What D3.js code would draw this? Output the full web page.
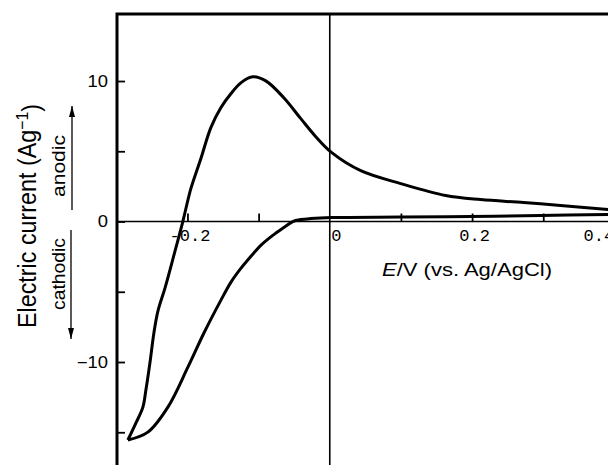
<!DOCTYPE html>
<html>
<head>
<meta charset="utf-8">
<script src="https://cdn.jsdelivr.net/npm/d3@7"></script>
<style>
  body { margin: 0; background: #fff; }
</style>
</head>
<body>
<div id="chart"></div>
<script>

// Anodic sweep: from the negative vertex up through the peak to the right edge
const forwardE = [-0.2837, -0.2725, -0.2626, -0.2584, -0.2528, -0.2472, -0.2416, -0.2317, -0.2191, -0.2065,
                  -0.1952, -0.1812, -0.1671, -0.1531, -0.1390, -0.1250, -0.1081, -0.0899, -0.0646, -0.0407,
                  -0.0197, 0.0028, 0.0435, 0.0997, 0.1629, 0.2121, 0.2725, 0.3244, 0.3919];
const forwardI = [-15.55, -14.35, -13.21, -12.00, -10.09, -7.95, -6.39, -4.76, -2.41, 0.0,
                  2.34, 4.47, 6.68, 8.10, 9.09, 9.87, 10.30, 10.01, 8.81, 7.32,
                  6.04, 4.90, 3.62, 2.70, 1.85, 1.56, 1.35, 1.14, 0.85];

// Cathodic sweep: from the right edge back down to the negative vertex
const returnE = [0.3919, 0.2963, 0.1980, 0.0997, 0.0028, -0.0267, -0.0407, -0.0520, -0.0646, -0.0801,
                 -0.0969, -0.1110, -0.1250, -0.1390, -0.1531, -0.1770, -0.1994, -0.2275, -0.2556, -0.2837];
const returnI = [0.50, 0.43, 0.36, 0.32, 0.28, 0.21, 0.14, 0.0, -0.43, -0.99,
                 -1.70, -2.49, -3.34, -4.33, -5.61, -7.95, -10.37, -13.21, -14.99, -15.55];

// Ticks
const yMajor = [-10, 0, 10];
const yMinor = [-15, -5, 5];
const xTickValues = [-0.2, -0.1, 0.1, 0.2, 0.3, 0.4];
const xLabelValues = [-0.2, 0, 0.2, 0.4];

// Labels
const yTitle = "Electric current (Ag";
const ySup = "\u22121";
const anodicLabel = "anodic";
const cathodicLabel = "cathodic";

function widen(sel, k) {
    // the scanned figure is a bit wider than tall, stretch glyphs to match
    sel.each(function () {
        const len = this.getComputedTextLength();
        d3.select(this).attr("textLength", len * k).attr("lengthAdjust", "spacingAndGlyphs");
    });
}

function draw() {
    const width = 608, height = 465;
    const left = 117, top = 14;

    const svg = d3.select("#chart")
                  .append("svg")
                  .attr("width", width)
                  .attr("height", height)
                  .style("display", "block");

    const x = d3.scaleLinear()
                .domain([-0.299, 0.391])
                .range([left, width]);
    const y = d3.scaleLinear()
                .domain([-17.33, 14.77])
                .range([height, top]);

    // arrowhead
    svg.append("defs").append("marker")
       .attr("id", "arrow")
       .attr("markerUnits", "userSpaceOnUse")
       .attr("markerWidth", 11).attr("markerHeight", 6)
       .attr("refX", 11).attr("refY", 3)
       .attr("orient", "auto")
       .append("path")
       .attr("d", "M0,0 L11,3 L0,6 Z")
       .attr("fill", "#000");

    // zero lines
    svg.append("line")
       .attr("x1", left).attr("x2", width)
       .attr("y1", y(0)).attr("y2", y(0))
       .attr("stroke", "#000").attr("stroke-width", 1.6);
    svg.append("line")
       .attr("x1", x(0)).attr("x2", x(0))
       .attr("y1", top).attr("y2", height)
       .attr("stroke", "#000").attr("stroke-width", 1.6);

    // Y axis ticks (pointing inward)
    const yFmt = d => d < 0 ? "\u2212" + Math.abs(d) : String(d);
    const yAxis = svg.append("g")
       .attr("transform", `translate(${left},0)`)
       .call(d3.axisLeft(y).tickValues(yMajor).tickSizeInner(-8).tickSizeOuter(0).tickPadding(9).tickFormat(yFmt));
    svg.append("g")
       .attr("transform", `translate(${left},0)`)
       .call(d3.axisLeft(y).tickValues(yMinor).tickSizeInner(-8).tickSizeOuter(0).tickFormat(""));
    svg.selectAll(".domain").remove();
    yAxis.selectAll("text")
         .attr("font-family", "'Liberation Sans', Arial, sans-serif")
         .attr("font-size", 16)
         .attr("fill", "#000")
         .call(widen, 1.15);

    // X axis ticks on the zero line (pointing up)
    svg.append("g")
       .attr("transform", `translate(0,${y(0)})`)
       .call(d3.axisBottom(x).tickValues(xTickValues).tickSizeInner(-8).tickSizeOuter(0).tickFormat(""));
    const xLabels = svg.append("g")
       .attr("transform", `translate(0,${y(0)})`)
       .call(d3.axisBottom(x).tickValues(xLabelValues).tickSize(0).tickPadding(7)
               .tickFormat(d => d === 0 ? "0" : d.toFixed(1)));
    svg.selectAll(".domain").remove();
    xLabels.selectAll("text")
           .attr("font-family", "'Liberation Mono', 'Courier New', monospace")
           .attr("font-size", 17)
           .attr("fill", "#000")
           .attr("dx", d => d === 0 ? 6 : d === 0.4 ? -16 : 2);

    svg.selectAll(".tick line").attr("stroke", "#000").attr("stroke-width", 1.8);

    // frame: top and left edges
    svg.append("path")
       .attr("d", `M${left},${height} L${left},${top} L${width},${top}`)
       .attr("fill", "none")
       .attr("stroke", "#000")
       .attr("stroke-width", 3);

    // voltammogram
    const line = d3.line()
                   .x(d => x(d[0]))
                   .y(d => y(d[1]))
                   .curve(d3.curveCatmullRom.alpha(0.5));
    [d3.zip(forwardE, forwardI), d3.zip(returnE, returnI)].forEach(pts => {
        svg.append("path")
           .datum(pts)
           .attr("d", line)
           .attr("fill", "none")
           .attr("stroke", "#000")
           .attr("stroke-width", 3)
           .attr("stroke-linejoin", "round");
    });

    // Y title
    const yt = svg.append("text")
       .attr("transform", "translate(36,216) rotate(-90)")
       .attr("text-anchor", "middle")
       .attr("font-family", "'Liberation Sans', Arial, sans-serif")
       .attr("font-size", 25)
       .attr("textLength", 224)
       .attr("lengthAdjust", "spacingAndGlyphs");
    yt.append("tspan").text(yTitle);
    yt.append("tspan").attr("dy", "-0.45em").attr("font-size", 17).text(ySup);
    yt.append("tspan").attr("dy", "0.45em").text(")");

    // anodic / cathodic with arrows
    svg.append("text")
       .attr("transform", "translate(65,166) rotate(-90)")
       .attr("text-anchor", "middle")
       .attr("font-family", "'Liberation Sans', Arial, sans-serif")
       .attr("font-size", 18)
       .attr("textLength", 62)
       .attr("lengthAdjust", "spacingAndGlyphs")
       .text(anodicLabel);
    svg.append("text")
       .attr("transform", "translate(65,274) rotate(-90)")
       .attr("text-anchor", "middle")
       .attr("font-family", "'Liberation Sans', Arial, sans-serif")
       .attr("font-size", 18)
       .attr("textLength", 72)
       .attr("lengthAdjust", "spacingAndGlyphs")
       .text(cathodicLabel);
    svg.append("line")
       .attr("x1", 72).attr("y1", 210).attr("x2", 72).attr("y2", 106)
       .attr("stroke", "#000").attr("stroke-width", 1.3)
       .attr("marker-end", "url(#arrow)");
    svg.append("line")
       .attr("x1", 71).attr("y1", 230).attr("x2", 71).attr("y2", 339)
       .attr("stroke", "#000").attr("stroke-width", 1.3)
       .attr("marker-end", "url(#arrow)");

    // X title
    const xt = svg.append("text")
       .attr("x", 382).attr("y", 276)
       .attr("font-family", "'Liberation Sans', Arial, sans-serif")
       .attr("font-size", 18)
       .attr("textLength", 170)
       .attr("lengthAdjust", "spacingAndGlyphs");
    xt.append("tspan").attr("font-style", "italic").text("E");
    xt.append("tspan").text("/V (vs. Ag/AgCl)");
}

draw();
</script>
</body>
</html>
